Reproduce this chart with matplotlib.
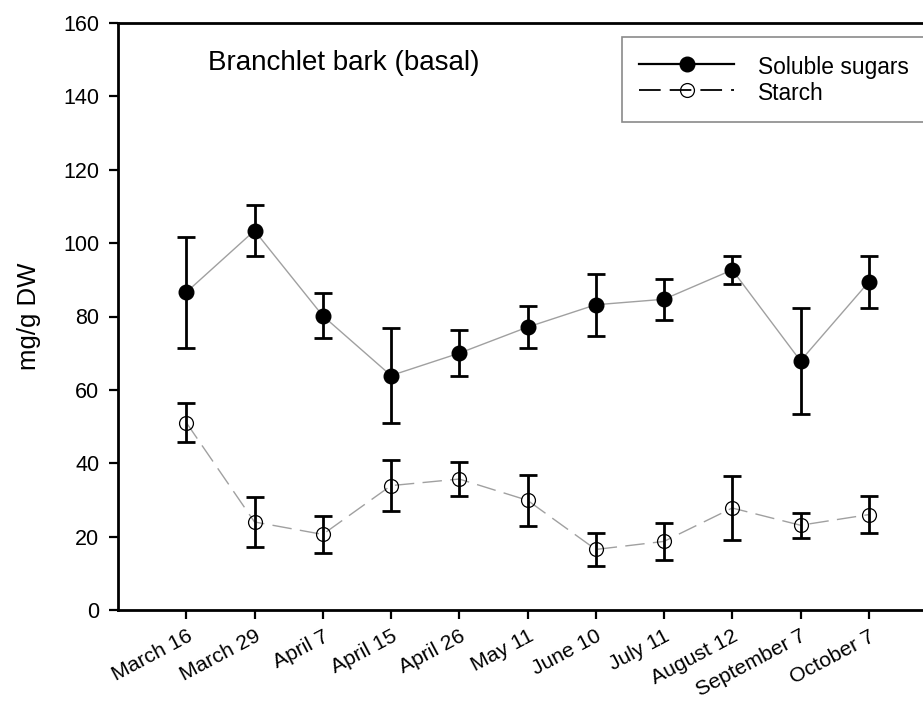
import matplotlib
matplotlib.use("Agg")
import matplotlib.pyplot as plt
from matplotlib.lines import Line2D

plt.rcParams['font.family'] = ['Liberation Sans', 'DejaVu Sans']

dates = ["March 16", "March 29", "April 7", "April 15", "April 26", "May 11",
         "June 10", "July 11", "August 12", "September 7", "October 7"]
sugars = [86.6, 103.4, 80.2, 63.9, 70.0, 77.1, 83.2, 84.7, 92.7, 67.9, 89.4]
sugars_err = [15.1, 6.9, 6.1, 12.9, 6.3, 5.7, 8.4, 5.6, 3.9, 14.5, 7.0]
starch = [51.1, 24.0, 20.6, 33.9, 35.7, 29.9, 16.5, 18.7, 27.8, 23.1, 26.0]
starch_err = [5.4, 6.8, 5.0, 7.0, 4.7, 7.0, 4.6, 5.0, 8.8, 3.4, 5.1]
yticks = [0, 20, 40, 60, 80, 100, 120, 140, 160]

W, H = 923, 702
fig = plt.figure(figsize=(W / 100, H / 100), dpi=100)
ax = fig.add_axes([118 / W, (H - 610) / H, (937 - 118) / W, (610 - 23) / H])

x = list(range(len(dates)))

ax.plot(x, sugars, color='#a0a0a0', lw=1.0, zorder=2)
ax.plot(x, starch, color='#a0a0a0', lw=1.0, dashes=(14, 6), zorder=2)
ax.errorbar(x, sugars, yerr=sugars_err, fmt='none', ecolor='black',
            elinewidth=2.0, capsize=6.5, capthick=2.0, zorder=4)
ax.errorbar(x, starch, yerr=starch_err, fmt='none', ecolor='black',
            elinewidth=2.0, capsize=6.5, capthick=2.0, zorder=4)
ax.plot(x, sugars, linestyle='none', marker='o', markersize=10.5,
        markerfacecolor='black', markeredgecolor='black', zorder=5)
ax.plot(x, starch, linestyle='none', marker='o', markersize=10,
        markerfacecolor='none', markeredgecolor='black', markeredgewidth=0.9, zorder=5)

ax.set_xlim(-1, 11)
ax.set_ylim(0, 160)
ax.set_yticks(yticks)
ax.set_yticklabels([str(v) for v in yticks], fontsize=15.5)
ax.set_xticks(x)
ax.set_xticklabels(dates, fontsize=15.2, rotation=28, ha='right', va='top',
                   rotation_mode='anchor')
ax.tick_params(axis='both', direction='out', length=6.5, width=1.6, color='black')
ax.tick_params(axis='y', pad=7)
ax.tick_params(axis='x', pad=5.5)
for s in ax.spines.values():
    s.set_linewidth(2.0)
    s.set_color('black')

ax.set_ylabel("mg/g DW", fontsize=18.5, labelpad=16)

ax.text((208 - 118) / (937 - 118), (610 - 70) / (610 - 23), "Branchlet bark (basal)",
        transform=ax.transAxes, fontsize=20, va='baseline', ha='left')

handles = [
    Line2D([], [], color='black', lw=1.6, marker='o', markersize=10.5,
           markerfacecolor='black', markeredgecolor='black'),
    Line2D([], [], color='black', lw=1.3, dashes=(12, 5), marker='o', markersize=10,
           markerfacecolor='none', markeredgecolor='black', markeredgewidth=0.9),
]
leg = fig.legend(handles, ["Soluble sugars", "Starch"], loc='upper left',
                 bbox_to_anchor=(622 / W, (H - 124) / H, (980 - 622) / W, 87 / H),
                 mode='expand', borderaxespad=0, fontsize=16.4, handlelength=4.17,
                 handletextpad=1.05, handleheight=1.3, labelspacing=0.05,
                 borderpad=0.75, fancybox=False, framealpha=1, edgecolor='#8a8a8a')
leg.get_frame().set_linewidth(1.2)

fig.savefig("out.png", dpi=100)
